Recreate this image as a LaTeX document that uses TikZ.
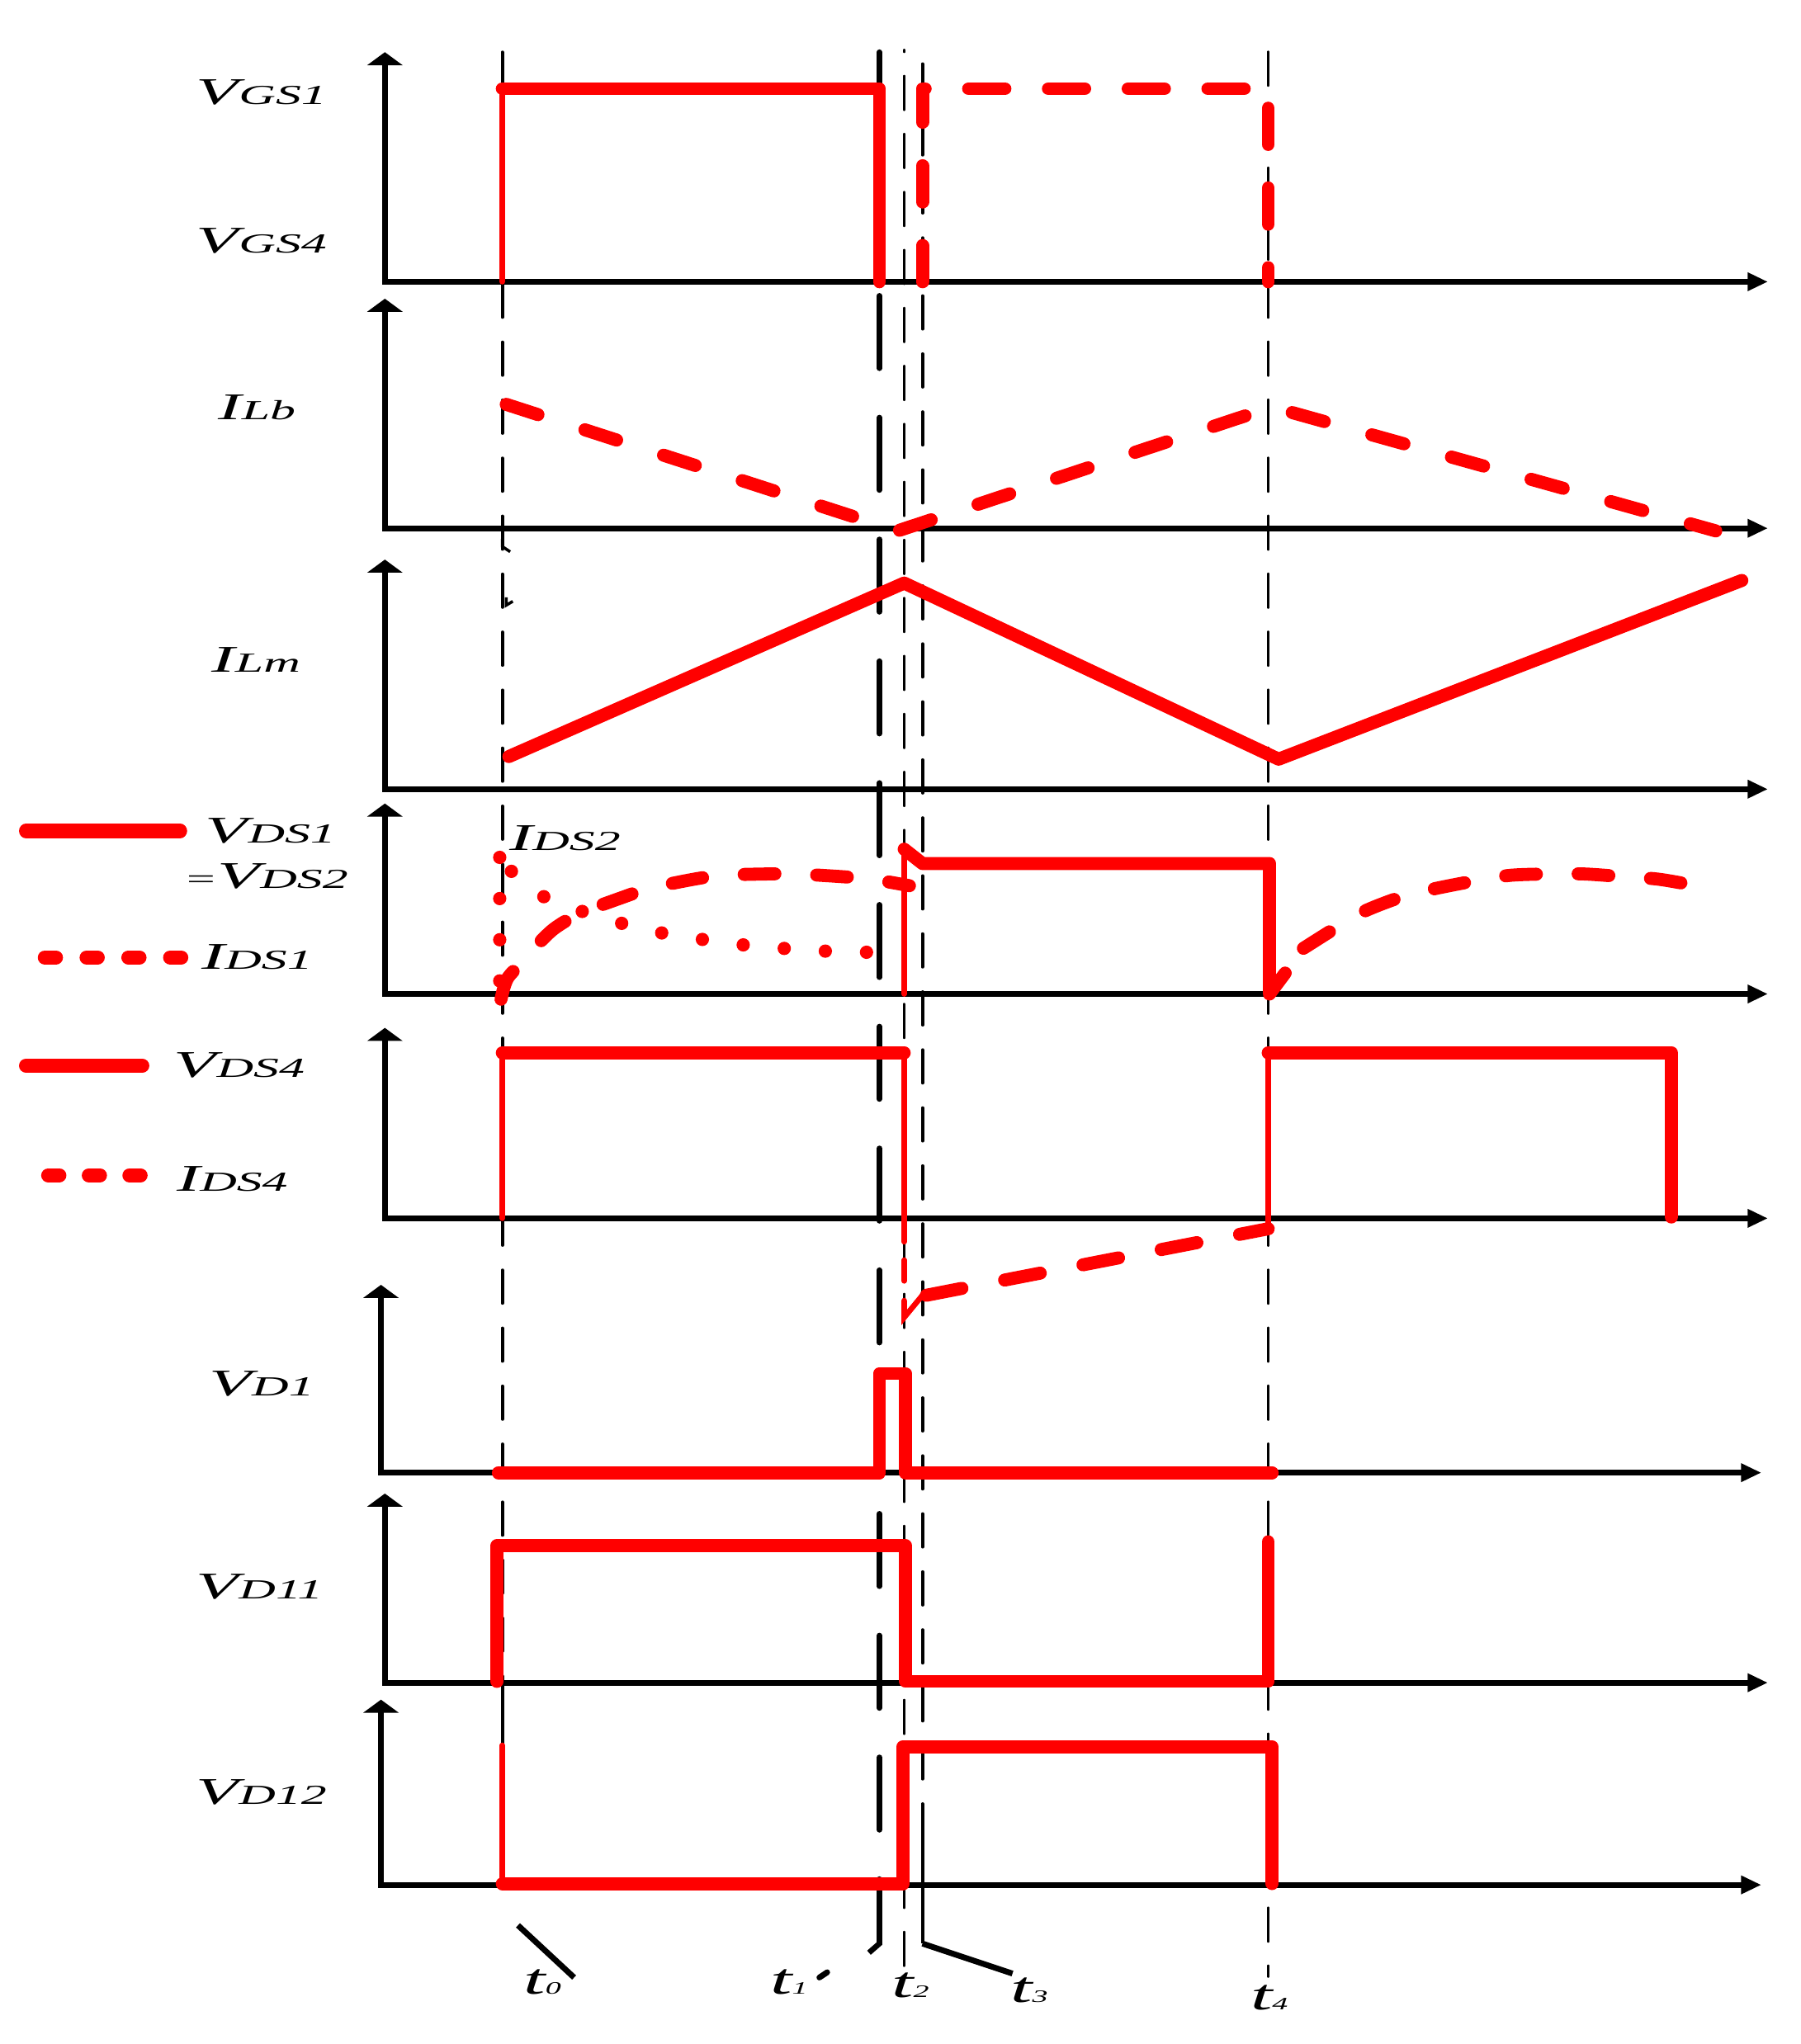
\documentclass[tikz,border=0pt]{standalone}
\usepackage{fontspec}
\setmainfont{Liberation Serif}
\usepackage{graphicx}
\usetikzlibrary{arrows.meta}
\newcommand{\sigl}[2]{\scalebox{1.85}[1]{\fontsize{13}{13}\selectfont\itshape #1{\fontsize{9.5}{9.5}\selectfont #2}}}
\newcommand{\tlab}[1]{\scalebox{1.8}[1]{\fontsize{15}{15}\selectfont\itshape t{\fontsize{6}{6}\selectfont #1}}}
\tikzset{
	axisline/.style={line width=2pt, {Triangle[width=12pt,length=4.5pt]}-{Triangle[width=6pt,length=7pt]}},
	thickred/.style={red, line width=4.5pt, line cap=round, line join=round},
	thinred/.style={red, line width=1.9pt, line cap=round},
	dashred/.style={thickred, dash pattern=on 12.5pt off 15pt},
	dotred/.style={red, line width=4.6pt, line cap=round, dash pattern=on 0pt off 14.2pt},
	tdash/.style={line width=1.1pt, line cap=round, dash pattern=on 11.4pt off 8.6pt},
	tlong/.style={line width=1.9pt, line cap=round, dash pattern=on 25pt off 17pt},
	lab/.style={inner sep=0pt, anchor=base west}
}
\begin{document}
\begin{tikzpicture}[x=0.1581mm, y=-0.1581mm]
			%%%%% START %%%%%
			\useasboundingbox (0,0) rectangle (1380,1567);
			
			% time lines
			\draw[tdash] (385,40) -- (385,1290);
			\draw[line width=1.1pt] (385,1290) -- (385,1338);
			\draw[line width=1pt] (385,413) -- (385,419) -- (391,423);
			\draw[line width=1pt] (388,458) -- (388,464) -- (393,461);
			\draw[tlong] (674,40) -- (674,1445);
			\draw[line width=1.9pt] (674,1445) -- (674,1490) -- (666,1497);
			\draw[tdash, dash phase=11pt] (693,38.6) -- (693,1515);
			\draw[tdash] (707,49) -- (707,1400);
			\draw[line width=1.1pt] (707,1400) -- (707,1490);
			\draw[line width=2pt] (707,1490) -- (776,1513);
			\draw[tdash] (972,40) -- (972,1515);
			\draw[line width=2pt] (397,1476) -- (440,1516);
			\draw[line width=2pt, line cap=round] (628,1516) -- (634,1512);
			
			% axes
			\draw[axisline] (295,40) -- (295,216) -- (1355,216);
			\draw[axisline] (295,229) -- (295,405) -- (1355,405);
			\draw[axisline] (295,429) -- (295,605) -- (1355,605);
			\draw[axisline] (295,616) -- (295,762) -- (1355,762);
			\draw[axisline] (295,788) -- (295,934) -- (1355,934);
			\draw[axisline] (292,985) -- (292,1129) -- (1350,1129);
			\draw[axisline] (295,1145) -- (295,1290) -- (1355,1290);
			\draw[axisline] (292,1303) -- (292,1445) -- (1350,1445);
			
			% VGS1, VGS4
			\draw[thinred] (385,216) -- (385,68);
			\draw[thickred] (385,68) -- (674,68) -- (674,216);
			\draw[dashred] (707,216) -- (707,68) -- (972,68) -- (972,216);
			
			% ILb, ILm
			\draw[thickred, dash pattern=on 11.5pt off 17pt] (388,310) -- (688,407) -- (975,312) -- (1315,407);
			\draw[thickred] (390,580) -- (693,447) -- (980,582) -- (1335,445);
			
			% VDS1, IDS1, IDS2
			\draw[thinred] (693,762) -- (693,651);
			\draw[thickred] (693,651) -- (707,662) -- (973,662) -- (973,762) -- (985,746);
			\draw[dashred, dash pattern=on 10.6pt off 14.4pt] plot[smooth] coordinates {(384,766) (389,750) (402,736) (414,722) (426,711) (445,700) (477,688) (498,681) (532,674) (554,671) (588,670) (610,670) (644,672) (668,674) (697,679)};
			\draw[dashred, dash pattern=on 10.6pt off 14.4pt] plot[smooth] coordinates {(999,727) (1026,710) (1047,698) (1076,687) (1101,681) (1132,675) (1158,671) (1188,670) (1214,670) (1243,672) (1271,674) (1300,679)};
			\draw[dotred] (383,752) -- (383,655);
			\draw[dotred] plot[smooth] coordinates {(392,668) (416,687) (447,699) (477,708) (506,715) (537,720) (566,724) (600,727) (629,729) (661,730) (695,730)};
			
			% VDS4, IDS4
			\draw[thinred] (385,934) -- (385,807);
			\draw[thickred] (385,807) -- (693,807);
			\draw[thinred] (693,807) -- (693,952);
			\draw[thinred] (693,966) -- (693,982);
			\draw[thinred] (693,997) -- (693,1010) -- (707,993);
			\draw[dashred] (710,993) -- (972,942);
			\draw[thinred] (972,942) -- (972,807);
			\draw[thickred] (972,807) -- (1281,807) -- (1281,933);
			
			% VD1, VD11, VD12
			\draw[thickred] (382,1129) -- (674,1129) -- (674,1053) -- (694,1053) -- (694,1129) -- (975,1129);
			\draw[thickred] (381,1289) -- (381,1185) -- (694,1185) -- (694,1289) -- (972,1289) -- (972,1182);
			\draw[thinred] (385,1338) -- (385,1444);
			\draw[thickred] (385,1444) -- (692,1444) -- (692,1339) -- (975,1339) -- (975,1444);
			
			% legend
			\draw[red, line width=4.9pt, line cap=round] (20,637) -- (138,637);
			\draw[red, line width=4.9pt, line cap=round, dash pattern=on 3.8pt off 10.6pt] (34.4,734) -- (140,734);
			\draw[red, line width=4.9pt, line cap=round] (20,817) -- (109,817);
			\draw[red, line width=4.9pt, line cap=round, dash pattern=on 3.8pt off 10.2pt] (37,901) -- (110,901);
			
			% labels
			\node[lab] (vgs1) at (150,80) {\sigl{V}{GS1}};
			\node[lab] (vgs4) at (150,194) {\sigl{V}{GS4}};
			\node[lab] (ilb) at (167,322) {\sigl{I}{Lb}};
			\node[lab] (ilm) at (162,515) {\sigl{I}{Lm}};
			\node[lab] (vds1) at (157,646) {\sigl{V}{DS1}};
			\node[lab] (vds2) at (140,681) {\sigl{{\fontsize{9.5}{9.5}\selectfont =}V}{DS2}};
			\node[lab] (ids1) at (154,743) {\sigl{I}{DS1}};
			\node[lab] (ids2) at (390,652) {\sigl{I}{DS2}};
			\node[lab] (vds4) at (133,826) {\sigl{V}{DS4}};
			\node[lab] (ids4) at (135,913) {\sigl{I}{DS4}};
			\node[lab] (vd1) at (160,1070) {\sigl{V}{D1}};
			\node[lab] (vd11) at (150,1226) {\sigl{V}{D11}};
			\node[lab] (vd12) at (150,1383) {\sigl{V}{D12}};
			\node[lab] (t0) at (401,1529) {\tlab{0}};
			\node[lab] (t1) at (590,1529) {\tlab{1}};
			\node[lab] (t2) at (683,1531) {\tlab{2}};
			\node[lab] (t3) at (774,1535) {\tlab{3}};
			\node[lab] (t4) at (958,1541) {\tlab{4}};
			%%%%% END %%%%%
\end{tikzpicture}
\end{document}
